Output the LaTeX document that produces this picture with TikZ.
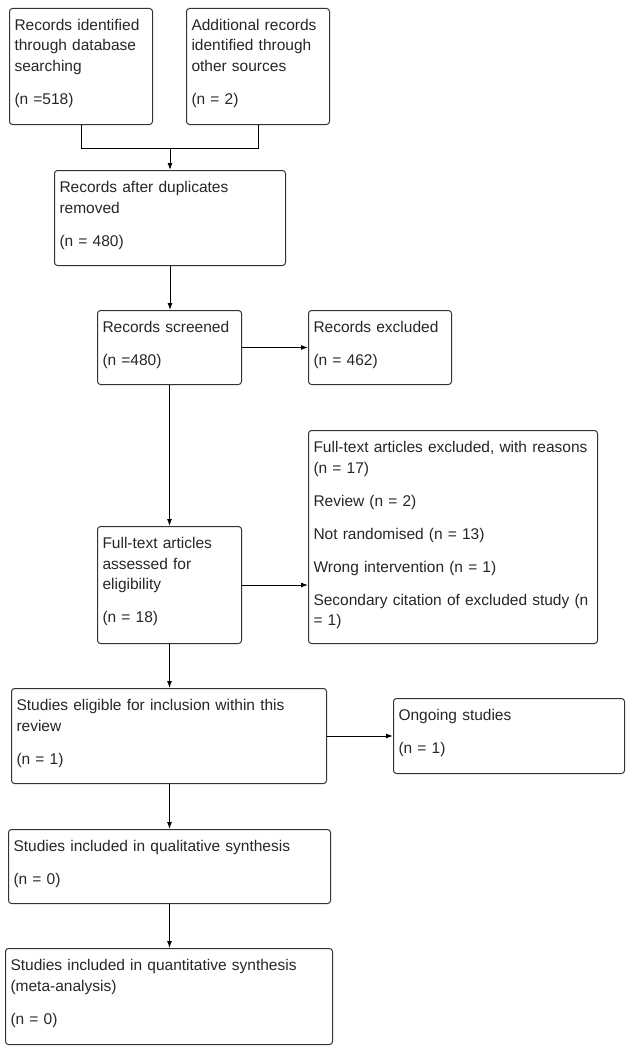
\documentclass[tikz,border=0pt]{standalone}
\usepackage{fontspec}
\usepackage{tikz}
\usetikzlibrary{arrows.meta}
\newfontfamily\flowfont{Liberation Sans}

\begin{document}
\begin{tikzpicture}[x=1pt, y=-1pt,
  every node/.style={font=\flowfont\fontsize{15.5}{20.5}\selectfont, text=black!85},
  box/.style={draw=black!80, line width=1pt, rounded corners=3pt, anchor=north west,
    inner xsep=5pt, inner ysep=0pt, text height=22pt, align=left},
  arr/.style={-{Latex[length=7pt,width=5pt]}, line width=1pt}]
\useasboundingbox (0,0) rectangle (634,1049);
% Identification
\node[box, text width=133pt, text depth=94pt] (ident1) at (9,8) {Records identified\\through database\\searching\\[12.5pt](n =518)};
\node[box, text width=133pt, text depth=94pt] (ident2) at (186,8) {Additional records\\identified through\\other sources\\[12.5pt](n = 2)};
\node[box, text width=221pt, text depth=73pt] (dedup) at (54,170) {Records after duplicates\\removed\\[12.5pt](n = 480)};
\coordinate (join) at (dedup.north |- 0,148);
\draw[line width=1pt] (ident1.south) -- (ident1.south |- join) -- (ident2.south |- join) -- (ident2.south);
\draw[arr] (join) -- (dedup.north);
% Screening
\node[box, text width=134pt, text depth=52pt] (screen) at (97,310) {Records screened\\[12.5pt](n =480)};
\node[box, text width=133pt, text depth=52pt] (excl) at (308,310) {Records excluded\\[12.5pt](n = 462)};
\draw[arr] (dedup.south) -- (screen.north -| dedup.south);
\draw[arr] (screen.east) -- (excl.west |- screen.east);
% Eligibility
\node[box, text width=134pt, text depth=95pt] (assess) at (97,526) {Full-text articles\\assessed for\\eligibility\\[12.5pt](n = 18)};
\node[box, text width=279pt, text depth=191pt] (ftexcl) at (308,430) {Full-text articles excluded, with reasons\\(n = 17)\\[12.5pt]Review (n = 2)\\[12.5pt]Not randomised (n = 13)\\[12.5pt]Wrong intervention (n = 1)\\[12.5pt]Secondary citation of excluded study (n\\= 1)};
\draw[arr] (screen.south) -- (assess.north -| screen.south);
\draw[arr] (assess.east) -- (ftexcl.west |- assess.east);
% Included
\node[box, text width=305pt, text depth=73pt] (eligible) at (11,688) {Studies eligible for inclusion within this\\review\\[12.5pt](n = 1)};
\node[box, text width=221pt, text depth=53pt] (ongoing) at (393,698) {Ongoing studies\\[12.5pt](n = 1)};
\node[box, text width=312pt, text depth=52pt] (qual) at (8,829) {Studies included in qualitative synthesis\\[12.5pt](n = 0)};
\node[box, text width=317pt, text depth=74pt] (quant) at (5,948) {Studies included in quantitative synthesis\\(meta-analysis)\\[12.5pt](n = 0)};
\draw[arr] (assess.south) -- (eligible.north -| assess.south);
\draw[arr] (eligible.east) -- (ongoing.west |- eligible.east);
\draw[arr] (eligible.south -| assess.south) -- (qual.north -| assess.south);
\draw[arr] (qual.south -| assess.south) -- (quant.north -| assess.south);
\end{tikzpicture}
\end{document}
